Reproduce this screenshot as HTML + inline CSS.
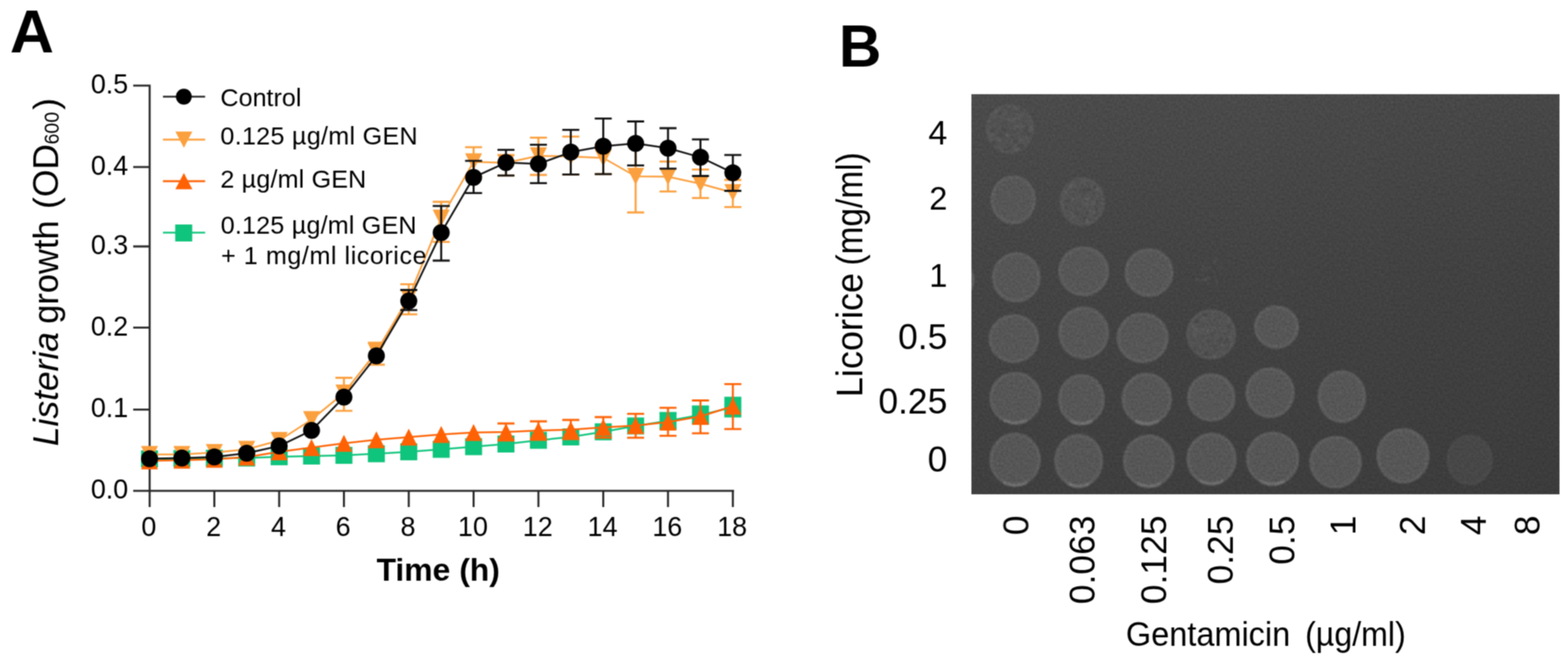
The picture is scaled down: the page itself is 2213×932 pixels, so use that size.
<!DOCTYPE html>
<html><head><meta charset="utf-8"><title>Figure</title>
<style>
html,body{margin:0;padding:0;background:#fff;}
svg{display:block;}
text{font-family:"Liberation Sans",Arial,sans-serif;fill:#000;}
</style></head>
<body>
<svg width="2213" height="932" viewBox="0 0 2213 932">
<defs><filter id="soften" x="0" y="0" width="2213" height="932" filterUnits="userSpaceOnUse" color-interpolation-filters="sRGB"><feConvolveMatrix order="3" kernelMatrix="1 2 1 2 4 2 1 2 1" divisor="16" edgeMode="duplicate"/></filter></defs>
<rect width="2213" height="932" fill="#fff"/>
<g filter="url(#soften)">
<text x="14" y="73.5" font-size="86" font-weight="bold">A</text>
<path d="M211.2 119.5V716M188 693.2H1036M188 578.4H211M188 462.7H211M188 348H211M188 235.8H211M188 120.9H211M302.5 693V716M394 693V716M485.4 693V716M576.9 693V716M668.4 693V716M759.9 693V716M851.4 693V716M942.8 693V716M1034.3 693V716" fill="none" stroke="#262626" stroke-width="2.8"/>
<text x="181" y="704.2" font-size="38" text-anchor="end">0.0</text>
<text x="181" y="589.4" font-size="38" text-anchor="end">0.1</text>
<text x="181" y="473.7" font-size="38" text-anchor="end">0.2</text>
<text x="181" y="359" font-size="38" text-anchor="end">0.3</text>
<text x="181" y="246.8" font-size="38" text-anchor="end">0.4</text>
<text x="181" y="131.9" font-size="38" text-anchor="end">0.5</text>
<text x="210" y="757.3" font-size="38" text-anchor="middle">0</text>
<text x="301.5" y="757.3" font-size="38" text-anchor="middle">2</text>
<text x="393" y="757.3" font-size="38" text-anchor="middle">4</text>
<text x="484.4" y="757.3" font-size="38" text-anchor="middle">6</text>
<text x="575.9" y="757.3" font-size="38" text-anchor="middle">8</text>
<text x="667.4" y="757.3" font-size="38" text-anchor="middle">10</text>
<text x="758.9" y="757.3" font-size="38" text-anchor="middle">12</text>
<text x="850.4" y="757.3" font-size="38" text-anchor="middle">14</text>
<text x="941.8" y="757.3" font-size="38" text-anchor="middle">16</text>
<text x="1033.3" y="757.3" font-size="38" text-anchor="middle">18</text>
<text x="618.5" y="819.7" font-size="45" font-weight="bold" text-anchor="middle">Time (h)</text>
<text transform="translate(82,630) rotate(-90)" font-size="50"><tspan x="0" font-style="italic">Listeria</tspan><tspan x="172.8" textLength="145.9" lengthAdjust="spacingAndGlyphs">growth</tspan><tspan x="335">(OD</tspan><tspan x="426" font-size="30" dy="0.5" textLength="46" lengthAdjust="spacingAndGlyphs">600</tspan><tspan x="475" dy="-0.5">)</tspan></text>
<polyline points="211,648 256.7,647.5 302.5,647 348.2,646.7 394,645 439.7,644 485.4,643 531.2,640.7 576.9,637.9 622.7,634.5 668.4,630.7 714.1,627 759.9,621.8 805.6,617 851.4,609.7 897.1,601.5 942.8,594.2 988.6,586.1 1034.3,574.9" fill="none" stroke="#0FC47C" stroke-width="2.5" stroke-linejoin="round"/>
<path d="M942.8 583.2V605.3M930.8 583.2H954.8M930.8 605.3H954.8M988.6 573.8V598.4M976.6 573.8H1000.6M976.6 598.4H1000.6M1034.3 561.7V588.1M1022.3 561.7H1046.3M1022.3 588.1H1046.3" fill="none" stroke="#0FC47C" stroke-width="2.8"/>
<path d="M199 636h24v24h-24ZM244.7 635.5h24v24h-24ZM290.5 635h24v24h-24ZM336.2 634.7h24v24h-24ZM382 633h24v24h-24ZM427.7 632h24v24h-24ZM473.4 631h24v24h-24ZM519.2 628.7h24v24h-24ZM564.9 625.9h24v24h-24ZM610.7 622.5h24v24h-24ZM656.4 618.7h24v24h-24ZM702.1 615h24v24h-24ZM747.9 609.8h24v24h-24ZM793.6 605h24v24h-24ZM839.4 597.7h24v24h-24ZM885.1 589.5h24v24h-24ZM930.8 582.2h24v24h-24ZM976.6 574.1h24v24h-24ZM1022.3 562.9h24v24h-24Z" fill="#0FC47C"/>
<polyline points="211,641.7 256.7,641.7 302.5,639 348.2,634.5 394,622 439.7,592.5 485.4,555 531.2,497 576.9,420 622.7,308 668.4,228.5 714.1,230 759.9,220 805.6,221 851.4,223 897.1,249 942.8,249.5 988.6,259.5 1034.3,272" fill="none" stroke="#FBA03E" stroke-width="2.5" stroke-linejoin="round"/>
<path d="M485.4 533.5V580.2M473.4 533.5H497.4M473.4 580.2H497.4M531.2 483.9V515M519.2 483.9H543.2M519.2 515H543.2M576.9 401.3V443.8M564.9 401.3H588.9M564.9 443.8H588.9M622.7 285V341.6M610.7 285H634.7M610.7 341.6H634.7M668.4 207.9V249M656.4 207.9H680.4M656.4 249H680.4M714.1 219V247.9M702.1 219H726.1M702.1 247.9H726.1M759.9 194.3V247M747.9 194.3H771.9M747.9 247H771.9M805.6 192.9V246.4M793.6 192.9H817.6M793.6 246.4H817.6M851.4 205V245.8M839.4 205H863.4M839.4 245.8H863.4M897.1 203V300M885.1 203H909.1M885.1 300H909.1M942.8 228.1V270.4M930.8 228.1H954.8M930.8 270.4H954.8M988.6 239.4V279.6M976.6 239.4H1000.6M976.6 279.6H1000.6M1034.3 254V292.3M1022.3 254H1046.3M1022.3 292.3H1046.3" fill="none" stroke="#FBA03E" stroke-width="2.8"/>
<path d="M199 629.7H223L211 653.7ZM244.7 629.7H268.7L256.7 653.7ZM290.5 627H314.5L302.5 651ZM336.2 622.5H360.2L348.2 646.5ZM382 610H406L394 634ZM427.7 580.5H451.7L439.7 604.5ZM473.4 543H497.4L485.4 567ZM519.2 485H543.2L531.2 509ZM564.9 408H588.9L576.9 432ZM610.7 296H634.7L622.7 320ZM656.4 216.5H680.4L668.4 240.5ZM702.1 218H726.1L714.1 242ZM747.9 208H771.9L759.9 232ZM793.6 209H817.6L805.6 233ZM839.4 211H863.4L851.4 235ZM885.1 237H909.1L897.1 261ZM930.8 237.5H954.8L942.8 261.5ZM976.6 247.5H1000.6L988.6 271.5ZM1022.3 260H1046.3L1034.3 284Z" fill="#FBA03E"/>
<polyline points="211,650.8 256.7,649.8 302.5,648.5 348.2,645.5 394,638 439.7,632 485.4,626 531.2,621 576.9,617.2 622.7,613.4 668.4,610.7 714.1,610 759.9,608 805.6,606.7 851.4,603.6 897.1,601 942.8,596 988.6,588 1034.3,573.6" fill="none" stroke="#FF6204" stroke-width="2.5" stroke-linejoin="round"/>
<path d="M714.1 598V622M702.1 598H726.1M702.1 622H726.1M759.9 595V621M747.9 595H771.9M747.9 621H771.9M805.6 593V620M793.6 593H817.6M793.6 620H817.6M851.4 589V618M839.4 589H863.4M839.4 618H863.4M897.1 584.4V618.2M885.1 584.4H909.1M885.1 618.2H909.1M942.8 575.8V615.3M930.8 575.8H954.8M930.8 615.3H954.8M988.6 565.5V611.8M976.6 565.5H1000.6M976.6 611.8H1000.6M1034.3 542.3V605.8M1022.3 542.3H1046.3M1022.3 605.8H1046.3" fill="none" stroke="#FF6204" stroke-width="2.8"/>
<path d="M199 662.8H223L211 638.8ZM244.7 661.8H268.7L256.7 637.8ZM290.5 660.5H314.5L302.5 636.5ZM336.2 657.5H360.2L348.2 633.5ZM382 650H406L394 626ZM427.7 644H451.7L439.7 620ZM473.4 638H497.4L485.4 614ZM519.2 633H543.2L531.2 609ZM564.9 629.2H588.9L576.9 605.2ZM610.7 625.4H634.7L622.7 601.4ZM656.4 622.7H680.4L668.4 598.7ZM702.1 622H726.1L714.1 598ZM747.9 620H771.9L759.9 596ZM793.6 618.7H817.6L805.6 594.7ZM839.4 615.6H863.4L851.4 591.6ZM885.1 613H909.1L897.1 589ZM930.8 608H954.8L942.8 584ZM976.6 600H1000.6L988.6 576ZM1022.3 585.6H1046.3L1034.3 561.6Z" fill="#FF6204"/>
<polyline points="211,647.8 256.7,646.8 302.5,645.2 348.2,640 394,629.8 439.7,607.8 485.4,560.8 531.2,502.5 576.9,425 622.7,328.6 668.4,250.5 714.1,229.6 759.9,231.5 805.6,214.8 851.4,206.6 897.1,202.6 942.8,209.3 988.6,222.1 1034.3,244" fill="none" stroke="#111" stroke-width="2.5" stroke-linejoin="round"/>
<path d="M576.9 409.5V437.9M564.9 409.5H588.9M564.9 437.9H588.9M622.7 290.9V368M610.7 290.9H634.7M610.7 368H634.7M668.4 227.2V272.6M656.4 227.2H680.4M656.4 272.6H680.4M714.1 211.7V247.9M702.1 211.7H726.1M702.1 247.9H726.1M759.9 204.3V258.7M747.9 204.3H771.9M747.9 258.7H771.9M805.6 183.4V246.4M793.6 183.4H817.6M793.6 246.4H817.6M851.4 167.3V245.8M839.4 167.3H863.4M839.4 245.8H863.4M897.1 171.5V233.6M885.1 171.5H909.1M885.1 233.6H909.1M942.8 181V238.1M930.8 181H954.8M930.8 238.1H954.8M988.6 196.9V248.5M976.6 196.9H1000.6M976.6 248.5H1000.6M1034.3 218.8V269.5M1022.3 218.8H1046.3M1022.3 269.5H1046.3" fill="none" stroke="#111" stroke-width="2.8"/>
<circle cx="211" cy="647.8" r="12" fill="#000"/><circle cx="256.7" cy="646.8" r="12" fill="#000"/><circle cx="302.5" cy="645.2" r="12" fill="#000"/><circle cx="348.2" cy="640" r="12" fill="#000"/><circle cx="394" cy="629.8" r="12" fill="#000"/><circle cx="439.7" cy="607.8" r="12" fill="#000"/><circle cx="485.4" cy="560.8" r="12" fill="#000"/><circle cx="531.2" cy="502.5" r="12" fill="#000"/><circle cx="576.9" cy="425" r="12" fill="#000"/><circle cx="622.7" cy="328.6" r="12" fill="#000"/><circle cx="668.4" cy="250.5" r="12" fill="#000"/><circle cx="714.1" cy="229.6" r="12" fill="#000"/><circle cx="759.9" cy="231.5" r="12" fill="#000"/><circle cx="805.6" cy="214.8" r="12" fill="#000"/><circle cx="851.4" cy="206.6" r="12" fill="#000"/><circle cx="897.1" cy="202.6" r="12" fill="#000"/><circle cx="942.8" cy="209.3" r="12" fill="#000"/><circle cx="988.6" cy="222.1" r="12" fill="#000"/><circle cx="1034.3" cy="244" r="12" fill="#000"/>
<path d="M230 136.5H289.5" stroke="#222" stroke-width="2.7"/><circle cx="259.5" cy="136.5" r="11.2" fill="#000"/><path d="M230 197.2H289.5" stroke="#FBA03E" stroke-width="2.7"/><path d="M247.5 185.7H271.5L259.5 208.7Z" fill="#FBA03E"/><path d="M230 255.8H289.5" stroke="#FF6204" stroke-width="2.7"/><path d="M247.5 267.3H271.5L259.5 244.3Z" fill="#FF6204"/><path d="M230 328.5H289.5" stroke="#0FC47C" stroke-width="2.7"/><path d="M247.3 317h24v24h-24Z" fill="#0FC47C"/>
<text x="311" y="149.8" font-size="35.5">Control</text>
<text x="311" y="204.2" font-size="35.5" textLength="278.5" lengthAdjust="spacing">0.125 µg/ml GEN</text>
<text x="311" y="265" font-size="35.5" textLength="206" lengthAdjust="spacing">2 µg/ml GEN</text>
<text x="311.5" y="329.8" font-size="35.5" textLength="276.5" lengthAdjust="spacing">0.125 µg/ml GEN</text>
<text x="312" y="373" font-size="35.5" textLength="290" lengthAdjust="spacing">+ 1 mg/ml licorice</text>
<text x="1184" y="93.8" font-size="83" font-weight="bold">B</text>
<defs><linearGradient id="gv" x1="0" y1="0" x2="0" y2="1"><stop offset="0" stop-color="#4b4b4b"/><stop offset="0.45" stop-color="#444444"/><stop offset="1" stop-color="#3f3f3f"/></linearGradient><linearGradient id="gh" x1="0" y1="0" x2="1" y2="0"><stop offset="0" stop-color="#000" stop-opacity="0"/><stop offset="0.5" stop-color="#000" stop-opacity="0.02"/><stop offset="1" stop-color="#000" stop-opacity="0.06"/></linearGradient><filter id="tex" x="0" y="0" width="1" height="1" color-interpolation-filters="sRGB"><feTurbulence type="fractalNoise" baseFrequency="0.3" numOctaves="2" seed="7" result="n0"/><feGaussianBlur in="n0" stdDeviation="0.6" result="n"/><feColorMatrix in="n" type="matrix" values="0.16 0 0 0 0.42  0.16 0 0 0 0.42  0.16 0 0 0 0.42  0 0 0 0 1" result="g"/><feBlend in="g" in2="SourceGraphic" mode="overlay"/></filter><filter id="soft" x="-10%" y="-10%" width="120%" height="120%"><feGaussianBlur stdDeviation="1.3"/></filter><clipPath id="gclip"><rect x="1371" y="133" width="830" height="565"/></clipPath></defs><g clip-path="url(#gclip)"><g filter="url(#tex)"><rect x="1371" y="133" width="830" height="565" fill="url(#gv)"/><rect x="1371" y="133" width="830" height="565" fill="url(#gh)"/><g filter="url(#soft)"><ellipse cx="1425.2" cy="181.9" rx="31.8" ry="32.8" fill="#515151" stroke="#545454" stroke-width="4.5"/><ellipse cx="1430" cy="282.1" rx="29.8" ry="32.3" fill="#565656" stroke="#5d5d5d" stroke-width="4.5"/><ellipse cx="1527.7" cy="284.9" rx="29.8" ry="32.3" fill="#515151" stroke="#545454" stroke-width="4.5"/><ellipse cx="1434.3" cy="391.7" rx="32.1" ry="33.1" fill="#565656" stroke="#5d5d5d" stroke-width="4.5"/><ellipse cx="1529.4" cy="383" rx="33.5" ry="33.1" fill="#565656" stroke="#5d5d5d" stroke-width="4.5"/><ellipse cx="1621.6" cy="384.9" rx="32.1" ry="32.1" fill="#565656" stroke="#5d5d5d" stroke-width="4.5"/><ellipse cx="1430.9" cy="478.1" rx="33.5" ry="32.3" fill="#565656" stroke="#5d5d5d" stroke-width="4.5"/><ellipse cx="1529.4" cy="469.9" rx="33.5" ry="34.8" fill="#565656" stroke="#5d5d5d" stroke-width="4.5"/><ellipse cx="1612.5" cy="477.1" rx="34.5" ry="33.5" fill="#565656" stroke="#5d5d5d" stroke-width="4.5"/><ellipse cx="1709.5" cy="472" rx="33" ry="33.5" fill="#515151" stroke="#545454" stroke-width="4.5"/><ellipse cx="1801.6" cy="461.8" rx="29.4" ry="28.4" fill="#565656" stroke="#5d5d5d" stroke-width="4.5"/><ellipse cx="1433.1" cy="562" rx="34.5" ry="34.8" fill="#565656" stroke="#5d5d5d" stroke-width="4.5"/><path d="M1417.7 593.8Q1433.1 601.2 1448.5 593.8" fill="none" stroke="#707070" stroke-width="4" stroke-linecap="round"/><ellipse cx="1526.3" cy="564" rx="30.8" ry="33.8" fill="#565656" stroke="#5d5d5d" stroke-width="4.5"/><path d="M1512.4 595Q1526.3 602.2 1540.2 595" fill="none" stroke="#707070" stroke-width="4" stroke-linecap="round"/><ellipse cx="1618.4" cy="563.3" rx="33.3" ry="34.8" fill="#565656" stroke="#5d5d5d" stroke-width="4.5"/><path d="M1603.5 595.1Q1618.4 602.5 1633.3 595.1" fill="none" stroke="#707070" stroke-width="4" stroke-linecap="round"/><ellipse cx="1709.5" cy="561.2" rx="31.9" ry="31.9" fill="#565656" stroke="#5d5d5d" stroke-width="4.5"/><ellipse cx="1792.5" cy="554.5" rx="32.5" ry="33.5" fill="#565656" stroke="#5d5d5d" stroke-width="4.5"/><ellipse cx="1893.8" cy="560.1" rx="31.9" ry="34.8" fill="#565656" stroke="#5d5d5d" stroke-width="4.5"/><ellipse cx="1432.6" cy="649" rx="34" ry="35.8" fill="#565656" stroke="#5d5d5d" stroke-width="4.5"/><path d="M1417.4 681.7Q1432.6 689.3 1447.8 681.7" fill="none" stroke="#707070" stroke-width="4" stroke-linecap="round"/><ellipse cx="1522.4" cy="650.5" rx="32.2" ry="35.8" fill="#565656" stroke="#5d5d5d" stroke-width="4.5"/><path d="M1508 683.2Q1522.4 690.8 1536.8 683.2" fill="none" stroke="#707070" stroke-width="4" stroke-linecap="round"/><ellipse cx="1621.5" cy="651" rx="34.3" ry="35.3" fill="#565656" stroke="#5d5d5d" stroke-width="4.5"/><path d="M1606.2 683.2Q1621.5 690.8 1636.8 683.2" fill="none" stroke="#707070" stroke-width="4" stroke-linecap="round"/><ellipse cx="1709.9" cy="648" rx="33.1" ry="34.8" fill="#565656" stroke="#5d5d5d" stroke-width="4.5"/><path d="M1695.1 679.8Q1709.9 687.2 1724.7 679.8" fill="none" stroke="#707070" stroke-width="4" stroke-linecap="round"/><ellipse cx="1796.1" cy="647.5" rx="35.2" ry="35.8" fill="#565656" stroke="#5d5d5d" stroke-width="4.5"/><path d="M1780.4 680.2Q1796.1 687.8 1811.8 680.2" fill="none" stroke="#707070" stroke-width="4" stroke-linecap="round"/><ellipse cx="1885" cy="652.5" rx="34.7" ry="34.7" fill="#565656" stroke="#5d5d5d" stroke-width="4.5"/><ellipse cx="1980.1" cy="643.6" rx="35.2" ry="36.8" fill="#565656" stroke="#5d5d5d" stroke-width="4.5"/><ellipse cx="2074.1" cy="649.4" rx="30.5" ry="33.7" fill="#474747" stroke="#4a4a4a" stroke-width="4.5"/><circle cx="1403.3" cy="188.8" r="3.3" fill="#585858" opacity="0.8"/><circle cx="1398.2" cy="190.6" r="1.9" fill="#5c5c5c" opacity="0.8"/><circle cx="1401.5" cy="185.6" r="1.9" fill="#585858" opacity="0.8"/><circle cx="1422.2" cy="190.9" r="3.1" fill="#5c5c5c" opacity="0.8"/><circle cx="1409.5" cy="163.7" r="2.3" fill="#585858" opacity="0.8"/><circle cx="1411.6" cy="161.6" r="1.8" fill="#474747" opacity="0.8"/><circle cx="1429" cy="175" r="1.6" fill="#474747" opacity="0.8"/><circle cx="1403.3" cy="165.6" r="2.2" fill="#5c5c5c" opacity="0.8"/><circle cx="1437.3" cy="162.9" r="2.8" fill="#585858" opacity="0.8"/><circle cx="1434.1" cy="182.2" r="2.8" fill="#585858" opacity="0.8"/><circle cx="1455.7" cy="181.4" r="3.2" fill="#5c5c5c" opacity="0.8"/><circle cx="1424.5" cy="209.3" r="2.5" fill="#474747" opacity="0.8"/><circle cx="1449.4" cy="193.7" r="2.3" fill="#585858" opacity="0.8"/><circle cx="1402.5" cy="202.1" r="3.2" fill="#474747" opacity="0.8"/><circle cx="1431.9" cy="211.4" r="1.6" fill="#585858" opacity="0.8"/><circle cx="1444.3" cy="179.5" r="1.6" fill="#5c5c5c" opacity="0.8"/><circle cx="1433.2" cy="206.4" r="2.2" fill="#585858" opacity="0.8"/><circle cx="1410.3" cy="208.8" r="3" fill="#474747" opacity="0.8"/><circle cx="1442.3" cy="201.7" r="1.5" fill="#585858" opacity="0.8"/><circle cx="1429" cy="169.2" r="2.6" fill="#585858" opacity="0.8"/><circle cx="1394.9" cy="180.2" r="3" fill="#585858" opacity="0.8"/><circle cx="1418.7" cy="173.5" r="2.3" fill="#474747" opacity="0.8"/><circle cx="1453.6" cy="182" r="3.4" fill="#5c5c5c" opacity="0.8"/><circle cx="1415.6" cy="209.8" r="1.9" fill="#585858" opacity="0.8"/><circle cx="1448.9" cy="181.3" r="2.7" fill="#474747" opacity="0.8"/><circle cx="1439.3" cy="180.9" r="2" fill="#5c5c5c" opacity="0.8"/><circle cx="1417.3" cy="197" r="1.6" fill="#474747" opacity="0.8"/><circle cx="1431.5" cy="206.2" r="1.5" fill="#585858" opacity="0.8"/><circle cx="1410.9" cy="197.2" r="3.4" fill="#585858" opacity="0.8"/><circle cx="1430.8" cy="171.8" r="2.3" fill="#5c5c5c" opacity="0.8"/><circle cx="1441.7" cy="206.6" r="3.1" fill="#474747" opacity="0.8"/><circle cx="1423.3" cy="169.5" r="2.8" fill="#5c5c5c" opacity="0.8"/><circle cx="1435" cy="210.9" r="3.3" fill="#5c5c5c" opacity="0.8"/><circle cx="1431.1" cy="185.1" r="1.7" fill="#5c5c5c" opacity="0.8"/><circle cx="1439.7" cy="178.3" r="2.9" fill="#585858" opacity="0.8"/><circle cx="1399.6" cy="196.2" r="2.5" fill="#5c5c5c" opacity="0.8"/><circle cx="1436.9" cy="205.8" r="1.6" fill="#474747" opacity="0.8"/><circle cx="1400.7" cy="185.2" r="2.7" fill="#474747" opacity="0.8"/><circle cx="1419.7" cy="211.5" r="1.9" fill="#474747" opacity="0.8"/><circle cx="1443" cy="190.4" r="2" fill="#474747" opacity="0.8"/><circle cx="1433.5" cy="199" r="2.6" fill="#474747" opacity="0.8"/><circle cx="1434.7" cy="188.3" r="2.4" fill="#585858" opacity="0.8"/><circle cx="1411.2" cy="160.1" r="2.7" fill="#474747" opacity="0.8"/><circle cx="1400.4" cy="165.7" r="2.4" fill="#585858" opacity="0.8"/><circle cx="1416.1" cy="152.4" r="1.5" fill="#5c5c5c" opacity="0.8"/><circle cx="1432.3" cy="185.6" r="2.1" fill="#474747" opacity="0.8"/><circle cx="1433.6" cy="181.9" r="2.6" fill="#5c5c5c" opacity="0.8"/><circle cx="1453.7" cy="190.3" r="3" fill="#474747" opacity="0.8"/><circle cx="1433.1" cy="152.9" r="2.2" fill="#5c5c5c" opacity="0.8"/><circle cx="1416.8" cy="183.4" r="3.2" fill="#474747" opacity="0.8"/><circle cx="1440.3" cy="163.9" r="2.7" fill="#585858" opacity="0.8"/><circle cx="1422.7" cy="184.3" r="1.6" fill="#474747" opacity="0.8"/><circle cx="1405.7" cy="157.8" r="3.3" fill="#5c5c5c" opacity="0.8"/><circle cx="1410.9" cy="208.6" r="2.9" fill="#585858" opacity="0.8"/><circle cx="1399.1" cy="192.4" r="1.7" fill="#5c5c5c" opacity="0.8"/><circle cx="1448.5" cy="186.4" r="2.5" fill="#474747" opacity="0.8"/><circle cx="1435.1" cy="179.1" r="3.1" fill="#5c5c5c" opacity="0.8"/><circle cx="1438.8" cy="174.3" r="1.5" fill="#585858" opacity="0.8"/><circle cx="1440.1" cy="201.2" r="2.5" fill="#585858" opacity="0.8"/><circle cx="1414.3" cy="164.2" r="3.3" fill="#585858" opacity="0.8"/><circle cx="1412.5" cy="190.8" r="2.8" fill="#474747" opacity="0.8"/><circle cx="1439.1" cy="168.6" r="2.7" fill="#585858" opacity="0.8"/><circle cx="1428" cy="193.1" r="2.2" fill="#474747" opacity="0.8"/><circle cx="1418" cy="152.1" r="2.1" fill="#474747" opacity="0.8"/><circle cx="1441.1" cy="196" r="3.4" fill="#585858" opacity="0.8"/><circle cx="1408.9" cy="197.2" r="2.8" fill="#5c5c5c" opacity="0.8"/><circle cx="1441.3" cy="155.5" r="2.4" fill="#474747" opacity="0.8"/><circle cx="1432.9" cy="167.3" r="2.7" fill="#5c5c5c" opacity="0.8"/><circle cx="1419.3" cy="158.9" r="2.1" fill="#5c5c5c" opacity="0.8"/><circle cx="1436.4" cy="183.3" r="2.4" fill="#474747" opacity="0.8"/><circle cx="1529.5" cy="269" r="3.1" fill="#474747" opacity="0.8"/><circle cx="1537.4" cy="283.8" r="1.7" fill="#5c5c5c" opacity="0.8"/><circle cx="1513.2" cy="261.8" r="3.4" fill="#5c5c5c" opacity="0.8"/><circle cx="1536.1" cy="311.6" r="2" fill="#5c5c5c" opacity="0.8"/><circle cx="1547.4" cy="286.3" r="2.9" fill="#474747" opacity="0.8"/><circle cx="1531.4" cy="312" r="2.6" fill="#5c5c5c" opacity="0.8"/><circle cx="1498.9" cy="284.8" r="1.8" fill="#5c5c5c" opacity="0.8"/><circle cx="1534.8" cy="279.8" r="3.4" fill="#5c5c5c" opacity="0.8"/><circle cx="1513" cy="298.4" r="1.9" fill="#474747" opacity="0.8"/><circle cx="1512.2" cy="301.3" r="3.3" fill="#585858" opacity="0.8"/><circle cx="1505.1" cy="290.6" r="1.9" fill="#5c5c5c" opacity="0.8"/><circle cx="1544.9" cy="264.2" r="3.3" fill="#474747" opacity="0.8"/><circle cx="1533.9" cy="313.6" r="3.5" fill="#585858" opacity="0.8"/><circle cx="1502.8" cy="278.5" r="2.1" fill="#5c5c5c" opacity="0.8"/><circle cx="1538.2" cy="270.5" r="1.7" fill="#585858" opacity="0.8"/><circle cx="1517.5" cy="301.8" r="2.1" fill="#474747" opacity="0.8"/><circle cx="1533" cy="313.2" r="2.4" fill="#474747" opacity="0.8"/><circle cx="1535.5" cy="300.8" r="3.1" fill="#474747" opacity="0.8"/><circle cx="1499.4" cy="290.6" r="3.3" fill="#5c5c5c" opacity="0.8"/><circle cx="1540.5" cy="263.1" r="3.4" fill="#585858" opacity="0.8"/><circle cx="1506.7" cy="272.6" r="3" fill="#585858" opacity="0.8"/><circle cx="1512.4" cy="282.1" r="3" fill="#5c5c5c" opacity="0.8"/><circle cx="1538.3" cy="304" r="3.3" fill="#585858" opacity="0.8"/><circle cx="1521" cy="302.6" r="3.2" fill="#5c5c5c" opacity="0.8"/><circle cx="1534.6" cy="312.6" r="3.4" fill="#5c5c5c" opacity="0.8"/><circle cx="1524.8" cy="306.6" r="2.3" fill="#474747" opacity="0.8"/><circle cx="1505.3" cy="284.4" r="1.6" fill="#474747" opacity="0.8"/><circle cx="1509.6" cy="282.9" r="3.1" fill="#5c5c5c" opacity="0.8"/><circle cx="1534" cy="291.5" r="1.8" fill="#5c5c5c" opacity="0.8"/><circle cx="1501" cy="292.5" r="3.1" fill="#585858" opacity="0.8"/><circle cx="1525.3" cy="306.1" r="1.8" fill="#585858" opacity="0.8"/><circle cx="1550.3" cy="267.4" r="3.3" fill="#5c5c5c" opacity="0.8"/><circle cx="1522.5" cy="297.3" r="2.7" fill="#585858" opacity="0.8"/><circle cx="1545.2" cy="304.8" r="1.5" fill="#474747" opacity="0.8"/><circle cx="1529.5" cy="287.7" r="2.1" fill="#5c5c5c" opacity="0.8"/><circle cx="1513.8" cy="304.2" r="1.7" fill="#5c5c5c" opacity="0.8"/><circle cx="1504.6" cy="270.7" r="2.7" fill="#5c5c5c" opacity="0.8"/><circle cx="1534.5" cy="306.3" r="2.4" fill="#585858" opacity="0.8"/><circle cx="1510.2" cy="264" r="2.7" fill="#5c5c5c" opacity="0.8"/><circle cx="1534.2" cy="308.6" r="2.8" fill="#5c5c5c" opacity="0.8"/><circle cx="1532.2" cy="307.3" r="2.7" fill="#474747" opacity="0.8"/><circle cx="1530.4" cy="311.5" r="3.1" fill="#474747" opacity="0.8"/><circle cx="1521.2" cy="300.9" r="3.3" fill="#474747" opacity="0.8"/><circle cx="1529.9" cy="271.4" r="1.7" fill="#474747" opacity="0.8"/><circle cx="1533.5" cy="291.7" r="2.3" fill="#585858" opacity="0.8"/><circle cx="1536.9" cy="267.4" r="3.1" fill="#474747" opacity="0.8"/><circle cx="1534.7" cy="308.3" r="3.1" fill="#474747" opacity="0.8"/><circle cx="1534.9" cy="309.3" r="3.3" fill="#585858" opacity="0.8"/><circle cx="1543" cy="299.5" r="3" fill="#5c5c5c" opacity="0.8"/><circle cx="1554" cy="284.6" r="3.1" fill="#585858" opacity="0.8"/><circle cx="1532.1" cy="288.6" r="2.6" fill="#5c5c5c" opacity="0.8"/><circle cx="1544.2" cy="272.8" r="1.9" fill="#474747" opacity="0.8"/><circle cx="1535.2" cy="312.2" r="3.5" fill="#5c5c5c" opacity="0.8"/><circle cx="1533.6" cy="289.3" r="3.4" fill="#585858" opacity="0.8"/><circle cx="1535.6" cy="289.4" r="2.3" fill="#585858" opacity="0.8"/><circle cx="1508.9" cy="282.9" r="2.7" fill="#474747" opacity="0.8"/><circle cx="1523.8" cy="280.2" r="1.9" fill="#585858" opacity="0.8"/><circle cx="1504" cy="292.5" r="2.3" fill="#474747" opacity="0.8"/><circle cx="1520.7" cy="279" r="3.1" fill="#585858" opacity="0.8"/><circle cx="1547.9" cy="267.6" r="2.9" fill="#5c5c5c" opacity="0.8"/><circle cx="1547.9" cy="276.2" r="1.9" fill="#5c5c5c" opacity="0.8"/><circle cx="1553.4" cy="281.9" r="2" fill="#474747" opacity="0.8"/><circle cx="1526.8" cy="257.5" r="3.1" fill="#585858" opacity="0.8"/><circle cx="1538.8" cy="298.1" r="2.6" fill="#585858" opacity="0.8"/><circle cx="1530.4" cy="257.9" r="2.3" fill="#5c5c5c" opacity="0.8"/><circle cx="1537.9" cy="310.3" r="2.1" fill="#474747" opacity="0.8"/><circle cx="1544.8" cy="286.1" r="2.8" fill="#5c5c5c" opacity="0.8"/><circle cx="1542" cy="289.9" r="3.4" fill="#585858" opacity="0.8"/><circle cx="1515.4" cy="306.4" r="2.6" fill="#5c5c5c" opacity="0.8"/><circle cx="1546" cy="295.2" r="2.5" fill="#474747" opacity="0.8"/><circle cx="1701.2" cy="445.3" r="3.5" fill="#474747" opacity="0.8"/><circle cx="1717.3" cy="479" r="2" fill="#585858" opacity="0.8"/><circle cx="1703.7" cy="476.2" r="1.9" fill="#585858" opacity="0.8"/><circle cx="1725.6" cy="473.1" r="2.1" fill="#585858" opacity="0.8"/><circle cx="1688" cy="464.9" r="3.4" fill="#5c5c5c" opacity="0.8"/><circle cx="1715.2" cy="463.7" r="2.4" fill="#5c5c5c" opacity="0.8"/><circle cx="1731.2" cy="483.4" r="3" fill="#474747" opacity="0.8"/><circle cx="1686.3" cy="492.4" r="2.3" fill="#474747" opacity="0.8"/><circle cx="1723.9" cy="453.4" r="2.7" fill="#585858" opacity="0.8"/><circle cx="1728.8" cy="465" r="2.6" fill="#5c5c5c" opacity="0.8"/><circle cx="1700.7" cy="493.6" r="2.5" fill="#585858" opacity="0.8"/><circle cx="1693.8" cy="465.6" r="2.9" fill="#585858" opacity="0.8"/><circle cx="1736.9" cy="476.7" r="2.7" fill="#5c5c5c" opacity="0.8"/><circle cx="1724.7" cy="495.2" r="2.3" fill="#585858" opacity="0.8"/><circle cx="1709.4" cy="464.8" r="3.5" fill="#585858" opacity="0.8"/><circle cx="1736.5" cy="485.6" r="2.4" fill="#585858" opacity="0.8"/><circle cx="1709.3" cy="499.9" r="1.6" fill="#474747" opacity="0.8"/><circle cx="1734.4" cy="461.5" r="2.4" fill="#474747" opacity="0.8"/><circle cx="1701" cy="465.4" r="2.7" fill="#585858" opacity="0.8"/><circle cx="1731.2" cy="492.1" r="2.2" fill="#474747" opacity="0.8"/><circle cx="1724.5" cy="487.1" r="2.8" fill="#585858" opacity="0.8"/><circle cx="1689.1" cy="456.8" r="2.9" fill="#585858" opacity="0.8"/><circle cx="1713.5" cy="449" r="3.5" fill="#585858" opacity="0.8"/><circle cx="1708" cy="456.4" r="1.7" fill="#585858" opacity="0.8"/><circle cx="1714.9" cy="447.2" r="2.2" fill="#585858" opacity="0.8"/><circle cx="1688.7" cy="454.6" r="2.9" fill="#474747" opacity="0.8"/><circle cx="1691.1" cy="451.3" r="1.9" fill="#474747" opacity="0.8"/><circle cx="1683.9" cy="471.6" r="1.9" fill="#5c5c5c" opacity="0.8"/><circle cx="1717.1" cy="473.9" r="2" fill="#585858" opacity="0.8"/><circle cx="1715.6" cy="473.1" r="1.9" fill="#585858" opacity="0.8"/><circle cx="1717.9" cy="476.2" r="2.9" fill="#5c5c5c" opacity="0.8"/><circle cx="1712.5" cy="503.7" r="2.5" fill="#585858" opacity="0.8"/><circle cx="1714" cy="490.3" r="3" fill="#474747" opacity="0.8"/><circle cx="1716.3" cy="451.7" r="3.1" fill="#474747" opacity="0.8"/><circle cx="1683.8" cy="481.5" r="2.3" fill="#474747" opacity="0.8"/><circle cx="1692.1" cy="491.1" r="3.5" fill="#585858" opacity="0.8"/><circle cx="1702.5" cy="499.1" r="3.2" fill="#474747" opacity="0.8"/><circle cx="1692.2" cy="480.6" r="1.7" fill="#585858" opacity="0.8"/><circle cx="1717.5" cy="476.4" r="2.6" fill="#585858" opacity="0.8"/><circle cx="1718.1" cy="451.9" r="3.1" fill="#474747" opacity="0.8"/><circle cx="1722.5" cy="478.8" r="2.8" fill="#474747" opacity="0.8"/><circle cx="1702" cy="450.7" r="3" fill="#585858" opacity="0.8"/><circle cx="1707" cy="483.9" r="2.2" fill="#5c5c5c" opacity="0.8"/><circle cx="1695.5" cy="499.1" r="2.1" fill="#585858" opacity="0.8"/><circle cx="1682" cy="459" r="3.4" fill="#585858" opacity="0.8"/><circle cx="1683.2" cy="482.9" r="2.1" fill="#585858" opacity="0.8"/><circle cx="1715.1" cy="503.1" r="3" fill="#5c5c5c" opacity="0.8"/><circle cx="1709.7" cy="491.3" r="2.2" fill="#585858" opacity="0.8"/><circle cx="1698.8" cy="450" r="3.1" fill="#5c5c5c" opacity="0.8"/><circle cx="1683.5" cy="460.8" r="2.6" fill="#5c5c5c" opacity="0.8"/><circle cx="1697.2" cy="466.8" r="3" fill="#585858" opacity="0.8"/><circle cx="1715.1" cy="458" r="1.6" fill="#474747" opacity="0.8"/><circle cx="1681.1" cy="459" r="2.8" fill="#585858" opacity="0.8"/><circle cx="1731.1" cy="481.3" r="3.1" fill="#474747" opacity="0.8"/><circle cx="1701.1" cy="486.5" r="1.7" fill="#585858" opacity="0.8"/><circle cx="1731.2" cy="485" r="1.8" fill="#5c5c5c" opacity="0.8"/><circle cx="1717.8" cy="452.9" r="2.9" fill="#585858" opacity="0.8"/><circle cx="1711.7" cy="448.9" r="3" fill="#585858" opacity="0.8"/><circle cx="1692.7" cy="495.3" r="2.2" fill="#474747" opacity="0.8"/><circle cx="1686.3" cy="472.9" r="2.9" fill="#5c5c5c" opacity="0.8"/><circle cx="1704.5" cy="467.3" r="3" fill="#5c5c5c" opacity="0.8"/><circle cx="1708.4" cy="473.6" r="2.3" fill="#474747" opacity="0.8"/><circle cx="1733.2" cy="451.8" r="2.8" fill="#5c5c5c" opacity="0.8"/><circle cx="1707.4" cy="474.5" r="1.7" fill="#585858" opacity="0.8"/><circle cx="1723" cy="463.9" r="1.8" fill="#5c5c5c" opacity="0.8"/><circle cx="1700.3" cy="481.3" r="1.9" fill="#585858" opacity="0.8"/><circle cx="1693.2" cy="468.9" r="3.3" fill="#585858" opacity="0.8"/><circle cx="1705.6" cy="482.2" r="2.8" fill="#474747" opacity="0.8"/><circle cx="1732.9" cy="457.4" r="1.5" fill="#585858" opacity="0.8"/><circle cx="1714.6" cy="468.7" r="1.7" fill="#474747" opacity="0.8"/><circle cx="1695.4" cy="395.9" r="2.7" fill="#4d4d4d" opacity="0.8"/><circle cx="1697.2" cy="375.8" r="1.9" fill="#4d4d4d" opacity="0.8"/><circle cx="1689.5" cy="394.8" r="3.4" fill="#4d4d4d" opacity="0.8"/><circle cx="1713.3" cy="369" r="2.3" fill="#4d4d4d" opacity="0.8"/><circle cx="1695.7" cy="364.6" r="1.7" fill="#4a4a4a" opacity="0.8"/><circle cx="1697.6" cy="388.4" r="1.8" fill="#4d4d4d" opacity="0.8"/><circle cx="1722.5" cy="378.9" r="3" fill="#4a4a4a" opacity="0.8"/><circle cx="1699.7" cy="372.5" r="1.5" fill="#4d4d4d" opacity="0.8"/><circle cx="1716" cy="373.2" r="2" fill="#4d4d4d" opacity="0.8"/><circle cx="1698.8" cy="376.3" r="1.8" fill="#4d4d4d" opacity="0.8"/><circle cx="1716.6" cy="399.6" r="3.1" fill="#4a4a4a" opacity="0.8"/><circle cx="1692.1" cy="364.3" r="2" fill="#4a4a4a" opacity="0.8"/><circle cx="1715.2" cy="398.7" r="1.5" fill="#4a4a4a" opacity="0.8"/><circle cx="1707.5" cy="376" r="2" fill="#4a4a4a" opacity="0.8"/><circle cx="1717.7" cy="369.5" r="1.7" fill="#4d4d4d" opacity="0.8"/><circle cx="1713.5" cy="383.2" r="1.9" fill="#4a4a4a" opacity="0.8"/><circle cx="1707.6" cy="366.8" r="1.6" fill="#4d4d4d" opacity="0.8"/><circle cx="1697.2" cy="380.5" r="3.2" fill="#4d4d4d" opacity="0.8"/><circle cx="1699.9" cy="395.6" r="2.6" fill="#4d4d4d" opacity="0.8"/><circle cx="1702.5" cy="376.7" r="1.6" fill="#4a4a4a" opacity="0.8"/><circle cx="1714.8" cy="391.1" r="2.4" fill="#4a4a4a" opacity="0.8"/><circle cx="1703.8" cy="379.9" r="2.3" fill="#4d4d4d" opacity="0.8"/><circle cx="1706.2" cy="399.5" r="2.4" fill="#4a4a4a" opacity="0.8"/><circle cx="1716.2" cy="365.1" r="2.9" fill="#4a4a4a" opacity="0.8"/><circle cx="1702" cy="395.9" r="2.6" fill="#4d4d4d" opacity="0.8"/><circle cx="1721.5" cy="376.2" r="2.6" fill="#4a4a4a" opacity="0.8"/><circle cx="1704.6" cy="392.5" r="3" fill="#4d4d4d" opacity="0.8"/><circle cx="1701.2" cy="393.4" r="2.4" fill="#4d4d4d" opacity="0.8"/><circle cx="1693.4" cy="386.7" r="1.7" fill="#4a4a4a" opacity="0.8"/><circle cx="1715.7" cy="395.7" r="1.9" fill="#4a4a4a" opacity="0.8"/><ellipse cx="1366" cy="395" rx="9" ry="19" fill="#5e5e5e"/></g></g></g>
<text x="1337" y="203.6" font-size="48" text-anchor="end">4</text>
<text x="1337" y="296.4" font-size="46" text-anchor="end">2</text>
<text x="1337" y="405" font-size="46" text-anchor="end">1</text>
<text x="1337" y="492.8" font-size="50" text-anchor="end">0.5</text>
<text x="1337" y="583.6" font-size="50" text-anchor="end">0.25</text>
<text x="1337" y="665.5" font-size="50" text-anchor="end">0</text>
<text transform="translate(1217,561) rotate(-90)" font-size="51">Licorice</text>
<text transform="translate(1217,561) rotate(-90)" font-size="51" x="186" textLength="160" lengthAdjust="spacingAndGlyphs">(mg/ml)</text>
<text transform="translate(1451.5,728) rotate(-90)" font-size="50" text-anchor="end">0</text>
<text transform="translate(1544.6,728) rotate(-90)" font-size="50" text-anchor="end">0.063</text>
<text transform="translate(1645.8,728) rotate(-90)" font-size="50" text-anchor="end">0.125</text>
<text transform="translate(1739.8,728) rotate(-90)" font-size="50" text-anchor="end">0.25</text>
<text transform="translate(1826.5,728) rotate(-90)" font-size="50" text-anchor="end">0.5</text>
<text transform="translate(1912.5,728) rotate(-90)" font-size="50" text-anchor="end">1</text>
<text transform="translate(2010.8,728) rotate(-90)" font-size="50" text-anchor="end">2</text>
<text transform="translate(2096.7,728) rotate(-90)" font-size="50" text-anchor="end">4</text>
<text transform="translate(2172.5,728) rotate(-90)" font-size="50" text-anchor="end">8</text>
<text x="1589" y="912.3" font-size="49" textLength="232" lengthAdjust="spacingAndGlyphs">Gentamicin</text>
<text x="1842" y="912.3" font-size="49" textLength="142" lengthAdjust="spacingAndGlyphs">(µg/ml)</text>
</g>
</svg>
</body></html>
